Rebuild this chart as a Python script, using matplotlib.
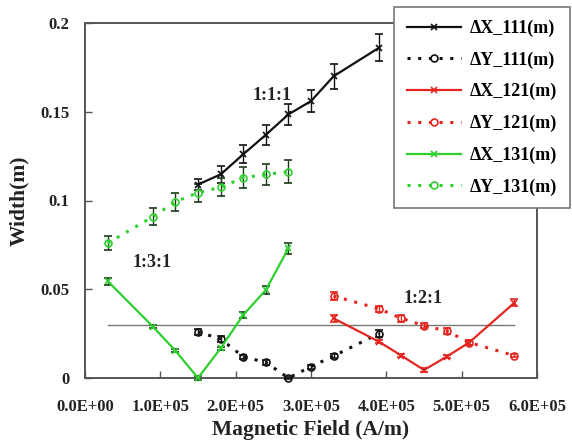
import matplotlib
matplotlib.use("Agg")
import matplotlib.pyplot as plt
from matplotlib.ticker import FuncFormatter

# magnetic field positions (A/m)
x_111 = [1.5e5, 1.8e5, 2.1e5, 2.4e5, 2.7e5, 3.0e5, 3.3e5, 3.9e5]
x_121 = [3.3e5, 3.9e5, 4.2e5, 4.5e5, 4.8e5, 5.1e5, 5.7e5]
x_131 = [0.3e5, 0.9e5, 1.2e5, 1.5e5, 1.8e5, 2.1e5, 2.4e5, 2.7e5]

# widths (m) and error bars
dx_111 = [0.109, 0.1147, 0.126, 0.137, 0.1485, 0.156, 0.170, 0.186]
dx_111_err = [0.003, 0.005, 0.005, 0.0058, 0.006, 0.006, 0.007, 0.0076]
dy_111 = [0.026, 0.022, 0.012, 0.0088, 0.0, 0.0064, 0.0124, 0.025]
dy_111_err = [0.0015, 0.0015, 0.0012, 0.0012, 0.0008, 0.0012, 0.0012, 0.0018]

dx_121 = [0.0336, 0.0205, 0.0126, 0.0045, 0.012, 0.020, 0.0424]
dx_121_err = [0.0018, 0.001, 0.001, 0.001, 0.001, 0.0015, 0.002]
dy_121 = [0.0462, 0.039, 0.0336, 0.0295, 0.0265, 0.020, 0.0126]
dy_121_err = [0.0025, 0.0018, 0.0018, 0.0015, 0.0015, 0.0012, 0.001]

dx_131 = [0.0546, 0.029, 0.0154, 0.0, 0.0167, 0.0355, 0.0496, 0.073]
dx_131_err = [0.002, 0.001, 0.001, 0.001, 0.001, 0.0015, 0.002, 0.003]
dy_131 = [0.0759, 0.0909, 0.0993, 0.1044, 0.1074, 0.1128, 0.1147, 0.1162]
dy_131_err = [0.004, 0.0047, 0.005, 0.005, 0.005, 0.006, 0.006, 0.0064]

threshold = 0.03
threshold_span = [0.3e5, 5.7e5]

ratio_labels = ["1:1:1", "1:3:1", "1:2:1"]
ratio_pos = [(2.48e5, 0.159), (0.89e5, 0.065), (4.49e5, 0.045)]

BLACK = "#111111"
RED = "#e3261f"
GREEN = "#2fcf2f"
SERIF = ["Liberation Serif", "DejaVu Serif"]

fig = plt.figure(figsize=(5.72, 4.46), dpi=100)
ax = fig.add_axes([85 / 572, 1 - 378 / 446, (537 - 85) / 572, (378 - 23) / 446])

dotted = (0, (1, 2.5))
series = [
    (x_111, dx_111, dx_111_err, BLACK, BLACK, "-", "x", "\u0394X_111(m)"),
    (x_111, dy_111, dy_111_err, BLACK, BLACK, dotted, "o", "\u0394Y_111(m)"),
    (x_121, dx_121, dx_121_err, RED, RED, "-", "x", "\u0394X_121(m)"),
    (x_121, dy_121, dy_121_err, RED, RED, dotted, "o", "\u0394Y_121(m)"),
    (x_131, dx_131, dx_131_err, GREEN, "#1a3a1a", "-", "x", "\u0394X_131(m)"),
    (x_131, dy_131, dy_131_err, GREEN, "#1a3a1a", dotted, "o", "\u0394Y_131(m)"),
]

handles = []
for xs, ys, errs, col, ecol, ls, mk, lab in series:
    lw = 1.6 if ls == "-" else 2.2
    eb = ax.errorbar(xs, ys, yerr=errs, color=col, ecolor=ecol, elinewidth=1.0,
                     capsize=3, capthick=1.0, linestyle=ls, linewidth=lw,
                     marker=mk, markersize=5, markerfacecolor="none",
                     markeredgecolor=col, markeredgewidth=1.2, clip_on=False,
                     zorder=3)
    for art in eb.lines[1] + eb.lines[2:][0]:
        art.set_clip_on(False)
    h, = ax.plot([], [], color=col, linestyle=ls, linewidth=lw, marker=mk,
                 markersize=5, markerfacecolor="white", markeredgecolor=col,
                 markeredgewidth=1.2)
    handles.append((h, lab))

ax.plot(threshold_span, [threshold, threshold], color="#777777", linewidth=1.0,
        zorder=2)

for txt, (tx, ty) in zip(ratio_labels, ratio_pos):
    ax.text(tx, ty, txt, ha="center", va="center", fontsize=13,
            fontweight="bold", family=SERIF, color="#222222")

ax.set_xlim(0, 6e5)
ax.set_ylim(0, 0.2)
ax.set_xticks([0, 1e5, 2e5, 3e5, 4e5, 5e5, 6e5])
ax.xaxis.set_major_formatter(FuncFormatter(lambda v, p: f"{v:.1E}"))
ax.set_yticks([0, 0.05, 0.1, 0.15, 0.2])
ax.set_yticklabels(["0", "0.05", "0.1", "0.15", "0.2"])
ax.tick_params(direction="in", length=5, width=1, color="#555555",
               labelsize=12)
ax.tick_params(axis="x", pad=15)
ax.tick_params(axis="y", pad=11)
for lbl in ax.get_xticklabels() + ax.get_yticklabels():
    lbl.set_family(SERIF)
    lbl.set_fontweight("bold")
    lbl.set_color("#222222")
for sp in ax.spines.values():
    sp.set_color("#555555")
    sp.set_linewidth(1.4)

ax.set_xlabel("Magnetic Field (A/m)", family=SERIF, fontweight="bold",
              fontsize=15.5, color="#222222", labelpad=4)
ax.set_ylabel("Width(m)", family=SERIF, fontweight="bold", fontsize=15.5,
              color="#222222", labelpad=8)

leg = fig.legend([h for h, _ in handles], [l for _, l in handles],
                 loc="upper right", bbox_to_anchor=(570 / 572, 1 - 7 / 446),
                 frameon=True, fancybox=False, framealpha=1, edgecolor="#777777",
                 handlelength=3.0, labelspacing=0.8, borderpad=0.7,
                 handletextpad=0.5, borderaxespad=0,
                 prop={"family": SERIF, "weight": "bold", "size": 13})
leg.get_frame().set_linewidth(1.2)

fig.savefig("out.png", dpi=100)
